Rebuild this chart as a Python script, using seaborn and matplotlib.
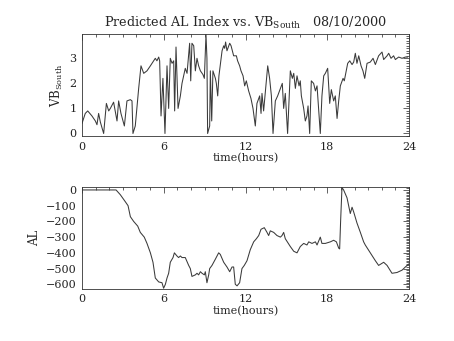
import numpy as np
import pandas as pd
import matplotlib
matplotlib.use("Agg")
import matplotlib.pyplot as plt
import seaborn as sns
from matplotlib.ticker import MultipleLocator

# Solar-wind driver VB_south (hours, mV/m)
vb_time = [0.00, 0.24, 0.42, 0.73, 0.98, 1.10, 1.22, 1.35, 1.59, 1.79, 1.96, 2.08,
           2.32, 2.57, 2.69, 2.86, 3.11, 3.30, 3.55, 3.67, 3.74, 3.91, 4.16, 4.33,
           4.53, 4.77, 5.02, 5.26, 5.38, 5.50, 5.63, 5.70, 5.80, 5.94, 6.09, 6.24,
           6.36, 6.48, 6.61, 6.73, 6.80, 6.90, 7.05, 7.22, 7.34, 7.46, 7.58, 7.71,
           7.90, 7.98, 8.07, 8.20, 8.32, 8.44, 8.56, 8.69, 8.88, 8.98, 9.10, 9.17,
           9.22, 9.37, 9.42, 9.52, 9.61, 9.79, 9.86, 9.96, 10.05, 10.28, 10.40, 10.47,
           10.54, 10.64, 10.84, 10.94, 11.13, 11.33, 11.42, 11.57, 11.67, 11.82, 11.94, 12.06,
           12.23, 12.40, 12.55, 12.72, 12.84, 13.04, 13.14, 13.21, 13.33, 13.63, 13.77, 13.90,
           14.02, 14.19, 14.36, 14.56, 14.70, 14.80, 14.92, 15.09, 15.29, 15.44, 15.54, 15.66,
           15.78, 15.93, 16.02, 16.10, 16.27, 16.39, 16.51, 16.59, 16.71, 16.83, 17.00, 17.13,
           17.25, 17.49, 17.61, 17.74, 17.86, 18.03, 18.18, 18.30, 18.47, 18.59, 18.72, 18.84,
           18.96, 19.16, 19.25, 19.50, 19.65, 19.82, 19.94, 20.06, 20.18, 20.31, 20.48, 20.62,
           20.75, 20.92, 21.16, 21.36, 21.53, 21.77, 22.02, 22.14, 22.39, 22.51, 22.68, 22.87,
           23.00, 23.24, 23.49, 23.73, 23.90]
vb_south = [0.4, 0.8, 0.9, 0.7, 0.5, 0.35, 0.8, 0.45, 0.0, 1.2, 0.9, 1.0,
            1.25, 0.5, 1.3, 0.8, 0.3, 1.3, 1.35, 1.3, 0.0, 0.3, 1.8, 2.7,
            2.4, 2.5, 2.7, 2.9, 3.0, 2.9, 3.05, 2.9, 0.7, 2.2, 0.0, 2.7,
            1.0, 3.0, 2.8, 2.9, 0.9, 3.45, 1.0, 1.5, 2.0, 2.3, 2.6, 2.4,
            3.6, 2.1, 3.6, 3.5, 2.5, 3.0, 2.7, 2.5, 2.35, 2.2, 3.95, 3.0,
            0.0, 0.3, 2.5, 0.5, 2.5, 2.2, 2.0, 1.5, 2.3, 3.3, 3.5, 3.4,
            3.65, 3.3, 3.6, 3.5, 3.1, 3.1, 2.9, 2.7, 2.5, 2.3, 1.9, 2.1,
            1.7, 1.4, 1.0, 0.3, 1.2, 1.5, 0.8, 1.6, 0.9, 2.7, 2.2, 1.5,
            0.0, 1.3, 1.5, 1.8, 2.0, 1.0, 1.6, 0.0, 2.5, 2.2, 2.4, 1.8,
            2.3, 1.9, 2.1, 1.5, 1.0, 0.5, 0.7, 1.1, 0.0, 2.1, 2.0, 1.7,
            1.9, 0.0, 1.5, 2.3, 2.4, 2.6, 1.2, 1.75, 1.3, 1.5, 0.6, 1.3,
            1.9, 2.2, 2.1, 2.8, 2.9, 2.75, 2.85, 3.2, 2.8, 3.1, 2.7, 2.5,
            2.2, 2.8, 2.85, 3.0, 2.75, 3.1, 3.25, 2.95, 3.1, 3.2, 3.0, 3.1,
            2.95, 3.05, 3.0, 3.05, 3.05]

# Predicted AL index (hours, nT)
al_time = [0.00, 2.50, 2.81, 3.18, 3.38, 3.55, 3.79, 4.09, 4.28, 4.57, 4.77, 5.02,
           5.21, 5.38, 5.63, 5.87, 5.99, 6.12, 6.24, 6.36, 6.48, 6.68, 6.78, 6.97,
           7.09, 7.22, 7.34, 7.58, 7.83, 7.95, 8.07, 8.32, 8.44, 8.56, 8.69, 8.81,
           8.98, 9.05, 9.17, 9.30, 9.37, 9.54, 9.79, 10.03, 10.15, 10.40, 10.64, 10.84,
           11.01, 11.13, 11.25, 11.38, 11.57, 11.74, 11.91, 12.11, 12.35, 12.60, 12.80, 12.97,
           13.14, 13.38, 13.58, 13.70, 13.82, 14.07, 14.31, 14.56, 14.68, 14.80, 14.92, 15.29,
           15.54, 15.78, 15.90, 16.02, 16.27, 16.51, 16.64, 16.88, 17.13, 17.25, 17.49, 17.61,
           17.86, 18.23, 18.47, 18.67, 18.84, 18.91, 18.98, 19.08, 19.20, 19.45, 19.57, 19.69,
           19.82, 19.94, 20.18, 20.43, 20.67, 20.79, 21.16, 21.53, 21.77, 22.14, 22.39, 22.75,
           23.12, 23.49, 23.73, 24.00]
al_index = [0, 0, -30, -75, -100, -170, -200, -230, -270, -300, -340, -400,
            -460, -560, -585, -590, -625, -600, -560, -530, -460, -430, -400, -420,
            -430, -420, -430, -430, -480, -500, -550, -540, -530, -540, -520, -530,
            -540, -520, -590, -540, -500, -480, -440, -400, -410, -460, -490, -520,
            -490, -490, -600, -610, -590, -500, -480, -450, -380, -330, -310, -290,
            -250, -240, -270, -290, -260, -270, -290, -300, -290, -270, -310, -360,
            -390, -400, -380, -360, -340, -350, -330, -340, -330, -350, -300, -340,
            -340, -330, -320, -330, -370, -375, -200, 15, 0, -50, -100, -150,
            -110, -140, -210, -270, -330, -350, -400, -450, -480, -460, -480, -530,
            -525, -510, -490, -470]

hour_ticks = [0, 6, 12, 18, 24]

vb_df = pd.DataFrame({"time": vb_time, "vb": vb_south})
al_df = pd.DataFrame({"time": al_time, "al": al_index})

sns.set_style("white")
plt.rcParams["font.family"] = ["DejaVu Serif"]
plt.rcParams["mathtext.fontset"] = "dejavuserif"

fig = plt.figure(figsize=(4.54, 3.41), dpi=100)
ax1 = fig.add_axes([0.1806, 0.6012, 0.7203, 0.2991])
ax2 = fig.add_axes([0.1806, 0.1534, 0.7203, 0.2974])

line_kw = dict(color="#3a3a3a", linewidth=0.75, estimator=None, sort=False)
sns.lineplot(data=vb_df, x="time", y="vb", ax=ax1, **line_kw)
sns.lineplot(data=al_df, x="time", y="al", ax=ax2, **line_kw)

ax1.set_ylim(-0.1, 3.97)
ax1.set_yticks([0, 1, 2, 3])
ax1.yaxis.set_minor_locator(MultipleLocator(0.1))
ax2.set_ylim(-628, 17)
ax2.set_yticks([0, -100, -200, -300, -400, -500, -600])
ax2.yaxis.set_minor_locator(MultipleLocator(10))

for ax in (ax1, ax2):
    ax.set_xlim(0, 24)
    ax.set_xticks(hour_ticks)
    ax.xaxis.set_minor_locator(MultipleLocator(1))
    ax.set_xlabel("time(hours)", fontsize=8, labelpad=1)
    ax.tick_params(which="both", direction="in", top=True, right=True,
                   labelsize=8, colors="#222222", width=0.5)
    ax.tick_params(which="major", length=4, pad=4)
    ax.tick_params(which="minor", length=2)
    for s in ax.spines.values():
        s.set_linewidth(0.6)
        s.set_color("#333333")

ax1.set_ylabel("VB$_{\\mathrm{South}}$", fontsize=8.5, labelpad=3)
ax2.set_ylabel("AL", fontsize=8.5, labelpad=3)
ax1.set_title("Predicted AL Index vs. VB$_{\\mathrm{South}}$   08/10/2000",
              fontsize=9.2, pad=5)

fig.savefig("out.png", dpi=100, facecolor="white")
